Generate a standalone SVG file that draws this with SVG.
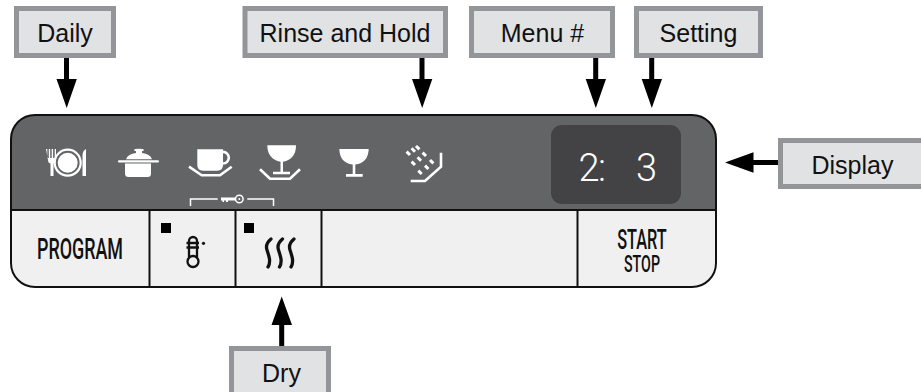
<svg xmlns="http://www.w3.org/2000/svg" width="921" height="392" viewBox="0 0 921 392">
<style>
.box{fill:#e1e2e4;stroke:#939598;stroke-width:5}
.lbl{font-family:"Liberation Sans",Arial,sans-serif;font-size:25px;fill:#111;text-anchor:middle}
.conn{stroke:#000;stroke-width:5;fill:none}
.ln{fill:none;stroke:#111;stroke-width:2}
.w{fill:#fff}
.ws{fill:none;stroke:#fff;stroke-width:2.6}
.key{font-family:Roboto,"Liberation Sans",sans-serif;font-weight:500;fill:#111}
.ks{fill:none;stroke:#111}
</style>
<rect width="921" height="392" fill="#fff"/>
<g id="panel">
<path d="M35 115H692A24 24 0 0 1 716 139V210H11V139A24 24 0 0 1 35 115Z" fill="#636466"/>
<path d="M11 210H716V263A24 24 0 0 1 692 287H35A24 24 0 0 1 11 263Z" fill="#f0f0f0"/>
<path class="ln" d="M35 115H692A24 24 0 0 1 716 139V263A24 24 0 0 1 692 287H35A24 24 0 0 1 11 263V139A24 24 0 0 1 35 115ZM11 210H716M149.500 210V287M235.500 210V287M321.500 210V287M577.500 210V287"/>
</g>
<g id="display">
<rect x="551" y="125" width="130" height="79" rx="11" fill="#434345"/>
<text x="578.500 598 615 636" y="181" font-family="Roboto,'Liberation Sans',sans-serif" font-weight="300" font-size="38" fill="#fff">2: 3</text>
</g>
<g id="icon-daily" class="w">
<path d="M46 149h1.300v9h1.500v-9h1.400v9h1.500v-9h1.400v9h1.600v-9h1.300v11q0 3-2.500 3.500V176h-3v-12.500q-2.500-.5-2.500-3.500Z"/>
<circle cx="67.700" cy="162.700" r="13" fill="none" stroke="#fff" stroke-width="2.200"/>
<circle cx="67.700" cy="162.700" r="10"/>
<path d="M82.500 176V155q0-4 3.500-6v27Z"/>
</g>
<g id="icon-pot" class="w">
<path d="M125 163.500H151V173.500q0 3.500-3.500 3.500H128.500q-3.500 0-3.500-3.500Z"/>
<rect x="118" y="160.300" width="41" height="2.200" rx="1"/>
<path d="M126 159.300q2-5.500 10-6.300v-1.800q-2-.3-2-1.200 0-1.200 5-1.200t5 1.200q0 .9-2 1.200v1.800q8 .8 10 6.300Z"/>
</g>
<g id="icon-cup">
<circle cx="223" cy="157.700" r="5.800" fill="none" stroke="#fff" stroke-width="2.600"/>
<path class="w" d="M197.300 149.300H223V165q0 5.700-5.700 5.700H203q-5.700 0-5.700-5.700Z"/>
<path class="ws" d="M189 166.700L201.700 175.300H220L231.700 166.700"/>
</g>
<g id="icon-glass-saucer">
<path class="w" d="M267.300 145.300H296q0 14-13 16.500V171.700H290v2.600H273v-2.600H280.500V161.800q-13-2.500-13.200-16.500Z"/>
<path class="ws" d="M260 169.300L270 178.700H290L300 169.300"/>
</g>
<g id="icon-key">
<path fill="none" stroke="#fff" stroke-width="1.500" d="M190.500 206V199H217.700M247.300 199H273.500V206"/>
<circle cx="239.300" cy="199" r="3.800" fill="none" stroke="#fff" stroke-width="1.500"/>
<circle cx="239.300" cy="199" r="1" class="w"/>
<path class="w" d="M221 197.500H235.500V200.500H228V202H226V200.500H224V202H222.500V200.500H221Z"/>
</g>
<g id="icon-glass">
<path class="w" d="M339.300 149H368.700q-.5 14-13.400 15.500V174H362.700v2.700H346V174H352.700V164.500q-13-1.500-13.400-15.500Z"/>
</g>
<g id="icon-rinse">
<path class="ws" d="M410.700 181H425L441 166.700V152.700"/>
<g stroke="#fff" stroke-width="3" stroke-linecap="butt">
<path d="M416 146l3.400 3.400M411.600 148.300l3.400 3.400M406.600 151.600l3.400 3.400M422.600 152.600l3.400 3.400M417.600 157.300l3.400 3.400M411.600 161.600l3.400 3.400M430 160l3.400 3.400M425 165.600l3.400 3.400M418.300 170.600l3.400 3.400"/>
</g>
</g>
<g id="btn-program">
<text class="key" x="80" y="259" font-size="29.500" text-anchor="middle" textLength="86" lengthAdjust="spacingAndGlyphs">PROGRAM</text>
</g>
<g id="btn-temp">
<rect x="161" y="223" width="10" height="10" fill="#000"/>
<path class="ks" stroke-width="2.300" d="M189 257V241a4 4 0 0 1 8 0V257M186.500 243H199M186.500 247.500H199"/>
<circle cx="193" cy="261.500" r="5.500" class="ks" stroke-width="2.300"/>
<circle cx="203.500" cy="243.300" r="1.600" fill="#111"/>
</g>
<g id="btn-heat">
<rect x="244" y="223" width="10" height="10" fill="#000"/>
<path class="ks" stroke-width="3.300" stroke-linecap="round" d="M271 239q-6 5-4 11t2.500 9q.5 5-1.500 8M282.500 239q-6 5-4 11t2.500 9q.5 5-1.500 8M294 239q-6 5-4 11t2.500 9q.5 5-1.500 8"/>
</g>
<g id="btn-start">
<text class="key" x="642" y="249" font-size="28" text-anchor="middle" textLength="49.500" lengthAdjust="spacingAndGlyphs">START</text>
<text class="key" x="642" y="272" font-size="24.500" text-anchor="middle" textLength="36" lengthAdjust="spacingAndGlyphs">STOP</text>
</g>
<g id="connectors">
<path class="conn" d="M66.500 58V82M422 58V82M595.700 58V82M651.700 58V82M778 162.500H750M281.700 346V322"/>
<path d="M56.500 79H76.800L66.700 108ZM412 79H432.300L422.200 108ZM585.700 79H606L595.800 108ZM641.700 79H662L651.800 108ZM753.500 152.300V172.700L725 162.500ZM271.500 325H292L281.700 296.500Z" fill="#000"/>
</g>
<g id="label-daily"><rect class="box" x="16.500" y="8.500" width="97" height="47"/><text class="lbl" x="65" y="42">Daily</text></g>
<g id="label-rinse"><rect class="box" x="245" y="8.500" width="200.500" height="47"/><text class="lbl" x="345" y="42">Rinse and Hold</text></g>
<g id="label-menu"><rect class="box" x="471.500" y="8.500" width="141" height="47"/><text class="lbl" x="542.500" y="42">Menu #</text></g>
<g id="label-setting"><rect class="box" x="636.500" y="8.500" width="124" height="47"/><text class="lbl" x="698.500" y="42">Setting</text></g>
<g id="label-display"><rect class="box" x="780.500" y="140.500" width="150" height="46"/><text class="lbl" x="852.500" y="174">Display</text></g>
<g id="label-dry"><rect class="box" x="231.500" y="348.500" width="97" height="50"/><text class="lbl" x="281.500" y="382">Dry</text></g>
</svg>
